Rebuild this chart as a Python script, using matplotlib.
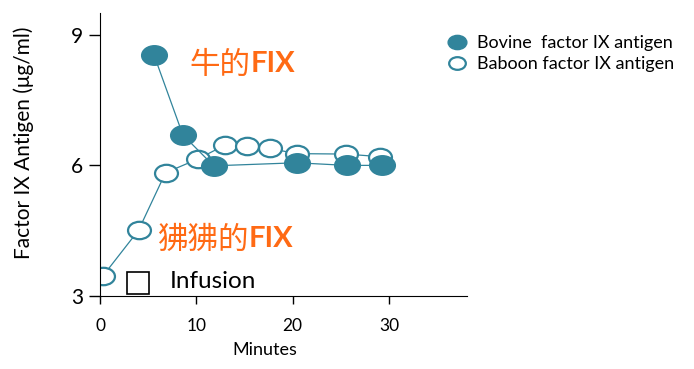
import matplotlib
matplotlib.use("Agg")
import matplotlib.pyplot as plt
from matplotlib.path import Path
from matplotlib.transforms import Affine2D
from matplotlib.lines import Line2D

plt.rcParams['font.family'] = ['Lato', 'DejaVu Sans']

# data
bov_x = [5.6, 8.6, 11.8, 20.4, 25.6, 29.3]
bov_y = [8.54, 6.70, 5.99, 6.06, 6.00, 6.00]
bab_x = [0.3, 4.0, 6.8, 10.2, 13.0, 15.3, 17.6, 20.4, 25.5, 29.1]
bab_y = [3.46, 4.51, 5.83, 6.15, 6.47, 6.44, 6.39, 6.27, 6.26, 6.20]
xticks = [0, 10, 20, 30]
yticks = [3, 6, 9]
labels = ["Bovine  factor IX antigen", "Baboon factor IX antigen"]

teal = "#31849B"
orange = "#FF6A14"

# elliptical marker
ell = Path.unit_circle().transformed(Affine2D().scale(1.0, 0.76))

fig = plt.figure(figsize=(6.94, 3.69), dpi=100)
ax = fig.add_axes([100/694, 73/369, 367/694, 283/369])

ax.plot(bab_x, bab_y, color=teal, lw=0.9, marker=ell, ms=16.5,
        mfc="white", mec=teal, mew=1.6, zorder=2)
ax.plot(bov_x, bov_y, color=teal, lw=0.9, marker=ell, ms=18.5,
        mfc=teal, mec=teal, zorder=3)

ax.set_xlim(0, 38.1)
ax.set_ylim(3, 9.5)
ax.set_xticks(xticks)
ax.set_yticks(yticks)
ax.tick_params(axis='x', length=6, width=1, labelsize=12.5, pad=10)
ax.tick_params(axis='y', length=8, width=1, labelsize=15, pad=4)
for s in ['top', 'right']:
    ax.spines[s].set_visible(False)
ax.set_xlabel("Minutes", fontsize=13)
ax.xaxis.set_label_coords(0.45, -0.163)
ax.set_ylabel("Factor IX Antigen (μg/ml)", fontsize=15)
ax.yaxis.set_label_coords(-0.18, 0.54)

# annotations
cjk = ['Noto Sans CJK SC', 'DejaVu Sans']
t1 = ax.text(9.3, 7.95, "牛的", color=orange, fontsize=22, family=cjk, va='bottom')
ax.annotate("FIX", xy=(1, 0.12), xycoords=t1, color=orange, fontsize=21,
            fontweight='bold', va='bottom')
t2 = ax.text(5.9, 3.93, "狒狒的", color=orange, fontsize=22, family=cjk, va='bottom')
ax.annotate("FIX", xy=(1, 0.12), xycoords=t2, color=orange, fontsize=21,
            fontweight='bold', va='bottom')

ax.plot([3.95], [3.29], marker='s', ms=16, mfc='white', mec='black', mew=1.2,
        clip_on=False, zorder=4)
ax.text(7.2, 3.33, "Infusion", fontsize=17.5, va='center')

handles = [
    Line2D([], [], ls='none', marker=ell, ms=13.5, mfc=teal, mec=teal),
    Line2D([], [], ls='none', marker=ell, ms=12, mfc='white', mec=teal, mew=1.6),
]
fig.legend(handles, labels, loc='upper left', bbox_to_anchor=(446/694, 1 - 35/369),
           frameon=False, fontsize=13, handlelength=1.2, handletextpad=0.5,
           labelspacing=0.27, borderaxespad=0, borderpad=0)

fig.savefig("out.png", dpi=100)
